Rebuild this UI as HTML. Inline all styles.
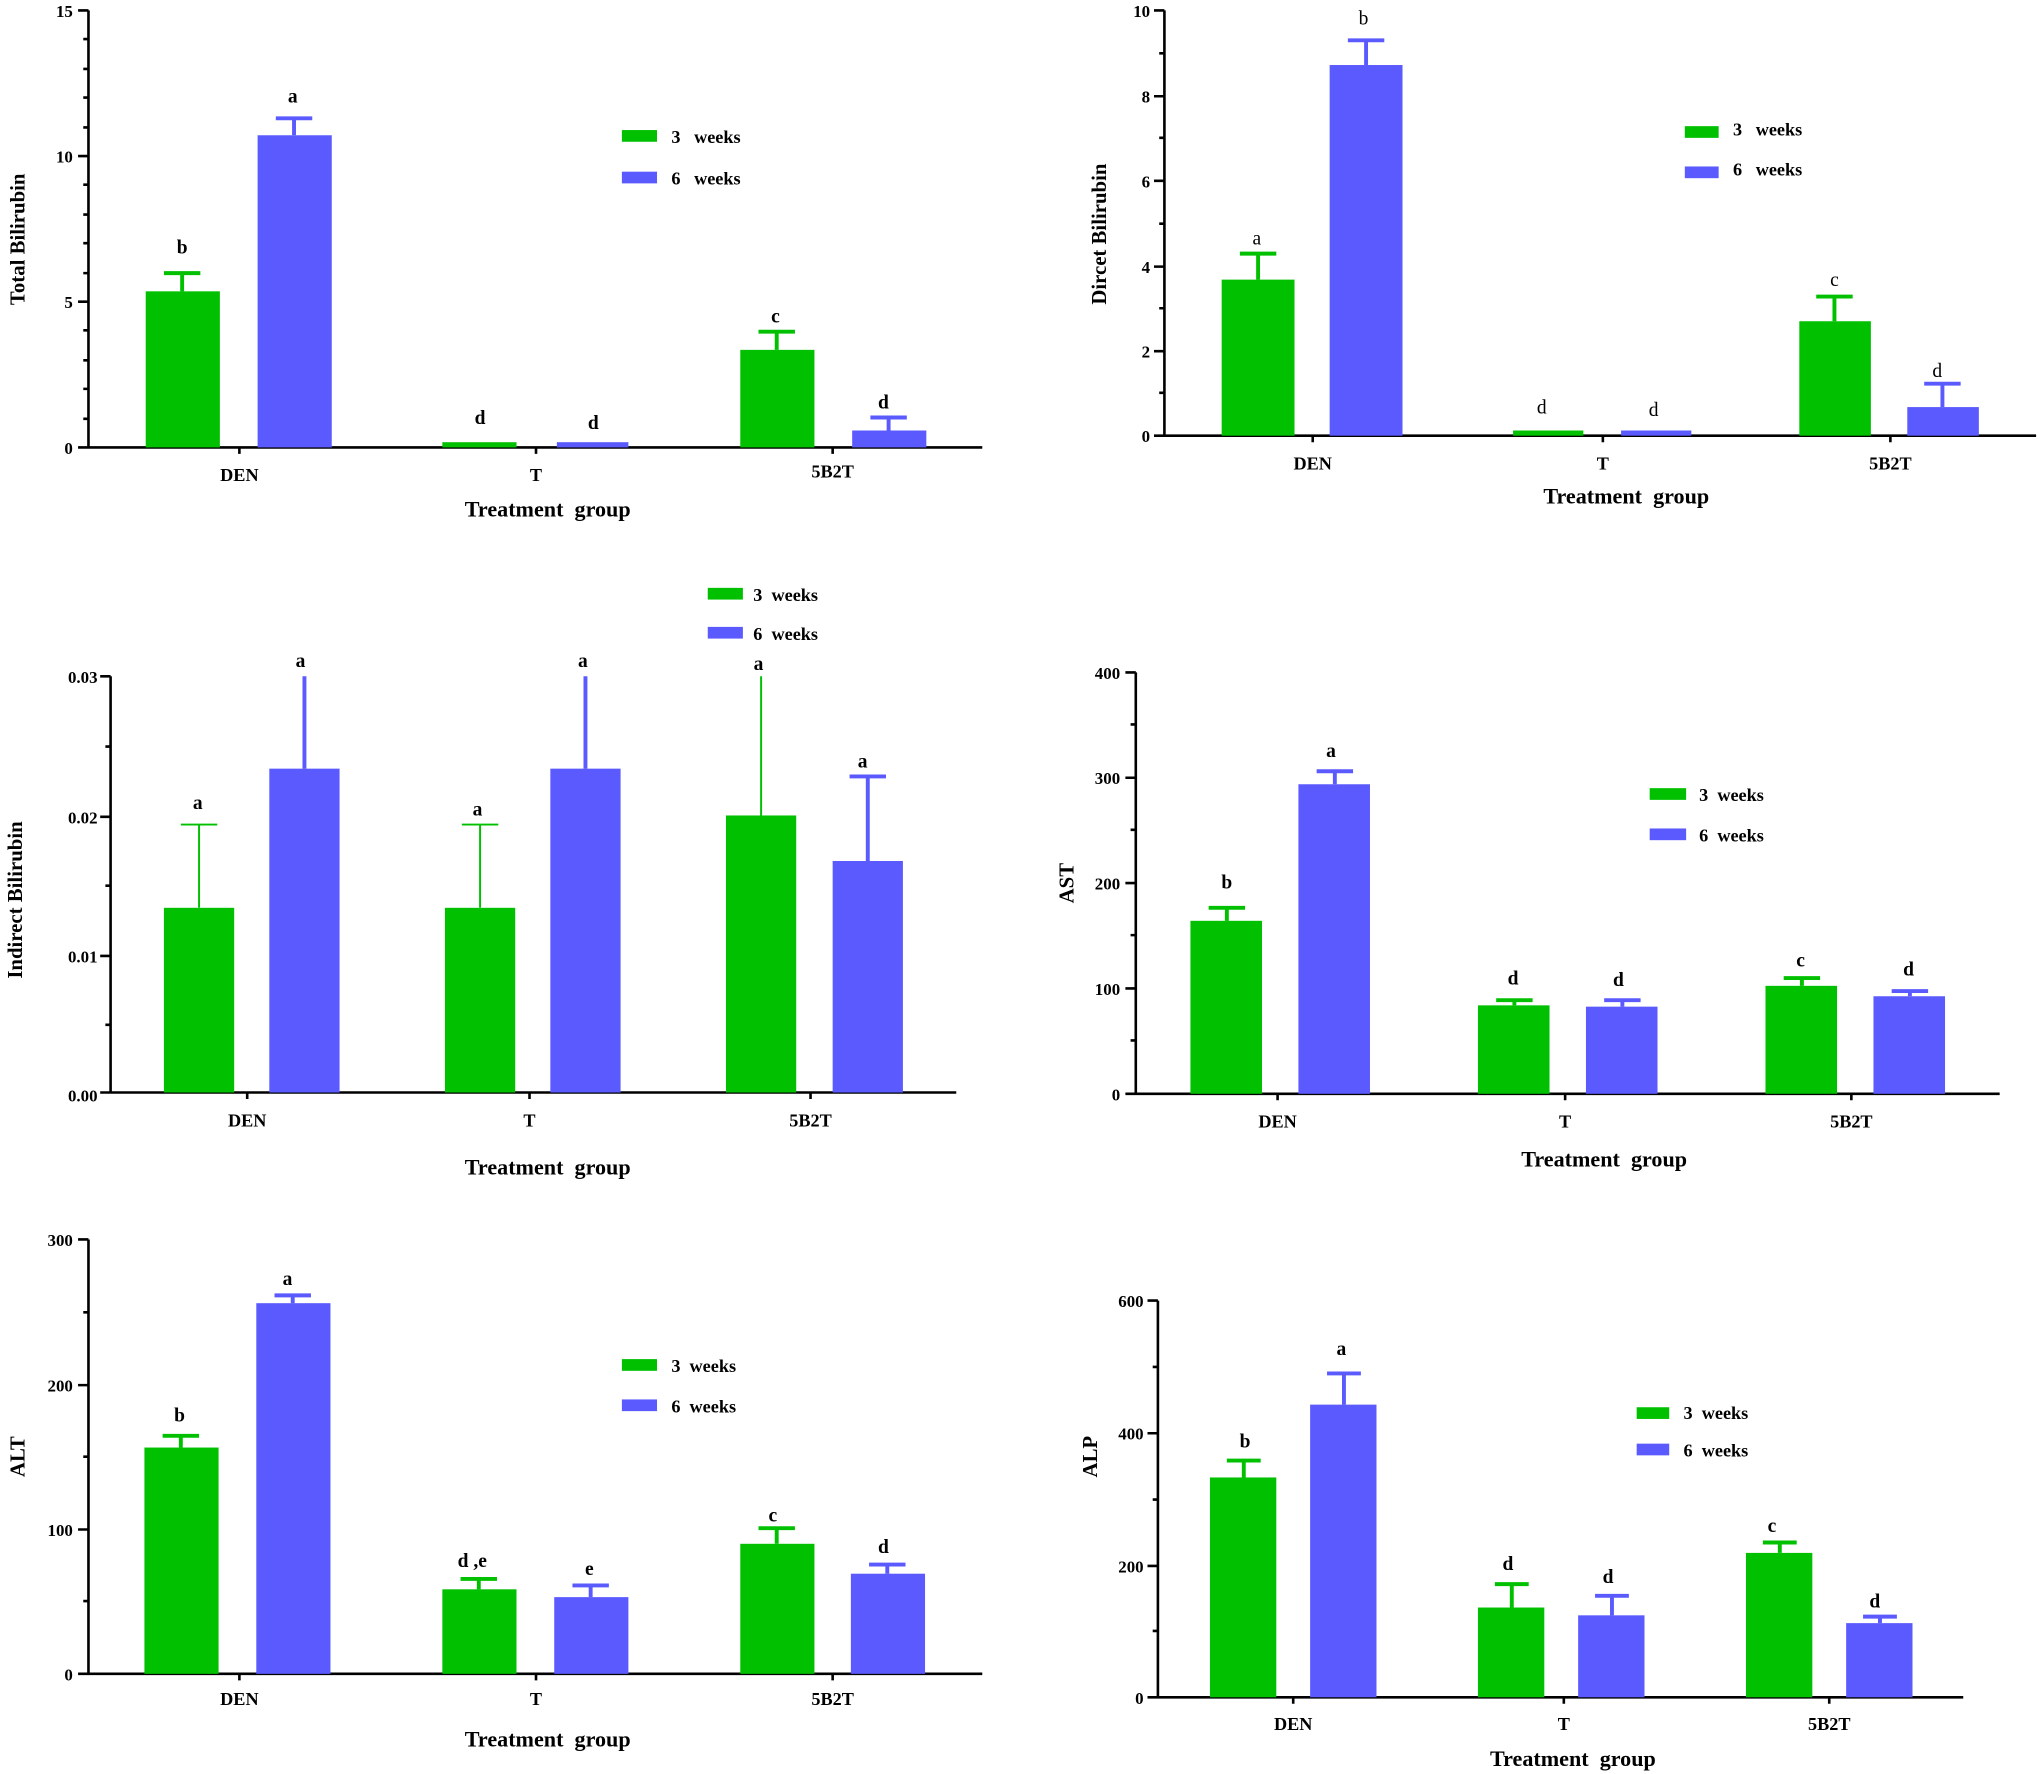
<!DOCTYPE html>
<html><head><meta charset="utf-8"><style>
html,body{margin:0;padding:0;background:#fff}
svg{display:block}
text{font-family:"Liberation Serif",serif;font-weight:bold;fill:#000;white-space:pre}
.ax{stroke:#000;stroke-width:2;fill:none}
.g{fill:#00c000}.b{fill:#5a5aff}
.eg{stroke:#00c000;stroke-width:3}.eb{stroke:#5a5aff;stroke-width:3}
.t{font-size:13px}.l{font-size:15px}.c{font-size:14px}.ti{font-size:17px}.y{font-size:16px}.lg{font-size:14px}
.n{font-weight:normal}
</style></head><body>
<svg width="2040" height="1774" viewBox="0 0 1568 1364" preserveAspectRatio="none" xmlns="http://www.w3.org/2000/svg" xml:space="preserve">

<!-- Panel 1 -->
<path class="ax" d="M68 8V344H755M60 8H68M60 120H68M60 232H68M60 344H68M64 30H68M64 53H68M64 75H68M64 98H68M64 142H68M64 165H68M64 187H68M64 210H68M64 254H68M64 277H68M64 299H68M64 322H68M184 344v5M412 344v5M640 344v5"/>
<g class="t" text-anchor="end"><text x="56" y="13">15</text><text x="56" y="125">10</text><text x="56" y="237">5</text><text x="56" y="349">0</text></g>
<rect class="g" x="112" y="224" width="57" height="120"/><rect class="b" x="198" y="104" width="57" height="240"/>
<rect class="g" x="340" y="340" width="57" height="4"/><rect class="b" x="428" y="340" width="55" height="4"/>
<rect class="g" x="569" y="269" width="57" height="75"/><rect class="b" x="655" y="331" width="57" height="13"/>
<path class="eg" d="M140 224V210M126 210H154M597 269V255M583 255H611"/>
<path class="eb" d="M226 104V91M212 91H240M683 331V321M669 321H697"/>
<g class="l" text-anchor="middle"><text x="140" y="195">b</text><text x="225" y="79">a</text><text x="369" y="326">d</text><text x="456" y="330">d</text><text x="596" y="248">c</text><text x="679" y="314">d</text></g>
<g class="c" text-anchor="middle"><text x="184" y="370">DEN</text><text x="412" y="370">T</text><text x="640" y="367">5B2T</text></g>
<text class="ti" x="421" y="397" text-anchor="middle">Treatment  group</text>
<text class="y" transform="translate(19,184) rotate(-90)" text-anchor="middle">Total Bilirubin</text>
<rect class="g" x="478" y="100" width="27" height="9"/><rect class="b" x="478" y="132" width="27" height="9"/>
<text class="lg" x="516" y="110">3   weeks</text><text class="lg" x="516" y="142">6   weeks</text>

<!-- Panel 2 -->
<path class="ax" d="M895 8V335H1565M887 8H895M887 74H895M887 139H895M887 205H895M887 270H895M887 335H895M891 41H895M891 106H895M891 172H895M891 237H895M891 302H895M1009 335v5M1232 335v5M1453 335v5"/>
<g class="t" text-anchor="end"><text x="884" y="13">10</text><text x="884" y="79">8</text><text x="884" y="144">6</text><text x="884" y="210">4</text><text x="884" y="275">2</text><text x="884" y="340">0</text></g>
<rect class="g" x="939" y="215" width="56" height="120"/><rect class="b" x="1022" y="50" width="56" height="285"/>
<rect class="g" x="1163" y="331" width="54" height="4"/><rect class="b" x="1246" y="331" width="54" height="4"/>
<rect class="g" x="1383" y="247" width="55" height="88"/><rect class="b" x="1466" y="313" width="55" height="22"/>
<path class="eg" d="M967 215V195M953 195H981M1410 247V228M1396 228H1424"/>
<path class="eb" d="M1050 50V31M1036 31H1064M1493 313V295M1479 295H1507"/>
<g class="l n" text-anchor="middle"><text class="n" x="966" y="188">a</text><text class="n" x="1048" y="19">b</text><text class="n" x="1185" y="318">d</text><text class="n" x="1271" y="320">d</text><text class="n" x="1410" y="220">c</text><text class="n" x="1489" y="290">d</text></g>
<g class="c" text-anchor="middle"><text x="1009" y="361">DEN</text><text x="1232" y="361">T</text><text x="1453" y="361">5B2T</text></g>
<text class="ti" x="1250" y="387" text-anchor="middle">Treatment  group</text>
<text class="y" transform="translate(850,180) rotate(-90)" text-anchor="middle">Dircet Bilirubin</text>
<rect class="g" x="1295" y="97" width="26" height="9"/><rect class="b" x="1295" y="128" width="26" height="9"/>
<text class="lg" x="1332" y="104">3   weeks</text><text class="lg" x="1332" y="135">6   weeks</text>

<!-- Panel 3 -->
<path class="ax" d="M85 520V840H735M77 520H85M77 628H85M77 735H85M77 840H85M81 574H85M81 681H85M81 788H85M190 840v5M407 840v5M623 840v5"/>
<g class="t" text-anchor="end"><text x="75" y="525">0.03</text><text x="75" y="633">0.02</text><text x="75" y="740">0.01</text><text x="75" y="847">0.00</text></g>
<rect class="g" x="126" y="698" width="54" height="142"/><rect class="b" x="207" y="591" width="54" height="249"/>
<rect class="g" x="342" y="698" width="54" height="142"/><rect class="b" x="423" y="591" width="54" height="249"/>
<rect class="g" x="558" y="627" width="54" height="213"/><rect class="b" x="640" y="662" width="54" height="178"/>
<path stroke="#00c000" stroke-width="1.5" d="M153 698V634M139 634H167M369 698V634M355 634H383M585 627V520"/>
<path class="eb" d="M234 591V520M450 591V520M667 662V597M653 597H681"/>
<g class="l" text-anchor="middle"><text x="152" y="622">a</text><text x="231" y="513">a</text><text x="367" y="627">a</text><text x="448" y="513">a</text><text x="583" y="515">a</text><text x="663" y="590">a</text></g>
<g class="c" text-anchor="middle"><text x="190" y="866">DEN</text><text x="407" y="866">T</text><text x="623" y="866">5B2T</text></g>
<text class="ti" x="421" y="903" text-anchor="middle">Treatment  group</text>
<text class="y" transform="translate(17,692) rotate(-90)" text-anchor="middle">Indirect Bilirubin</text>
<rect class="g" x="544" y="452" width="27" height="9"/><rect class="b" x="544" y="482" width="27" height="9"/>
<text class="lg" x="579" y="462">3  weeks</text><text class="lg" x="579" y="492">6  weeks</text>

<!-- Panel 4 -->
<path class="ax" d="M873 517V841H1537M865 517H873M865 598H873M865 679H873M865 760H873M865 841H873M869 557H873M869 638H873M869 719H873M869 800H873M982 841v5M1203 841v5M1423 841v5"/>
<g class="t" text-anchor="end"><text x="861" y="522">400</text><text x="861" y="603">300</text><text x="861" y="684">200</text><text x="861" y="765">100</text><text x="861" y="846">0</text></g>
<rect class="g" x="915" y="708" width="55" height="133"/><rect class="b" x="998" y="603" width="55" height="238"/>
<rect class="g" x="1136" y="773" width="55" height="68"/><rect class="b" x="1219" y="774" width="55" height="67"/>
<rect class="g" x="1357" y="758" width="55" height="83"/><rect class="b" x="1440" y="766" width="55" height="75"/>
<path class="eg" d="M943 708V698M929 698H957M1164 773V769M1150 769H1178M1385 758V752M1371 752H1399"/>
<path class="eb" d="M1026 603V593M1012 593H1040M1247 774V769M1233 769H1261M1468 766V762M1454 762H1482"/>
<g class="l" text-anchor="middle"><text x="943" y="683">b</text><text x="1023" y="582">a</text><text x="1163" y="757">d</text><text x="1244" y="758">d</text><text x="1384" y="743">c</text><text x="1467" y="750">d</text></g>
<g class="c" text-anchor="middle"><text x="982" y="867">DEN</text><text x="1203" y="867">T</text><text x="1423" y="867">5B2T</text></g>
<text class="ti" x="1233" y="897" text-anchor="middle">Treatment  group</text>
<text class="y" transform="translate(825,679) rotate(-90)" text-anchor="middle">AST</text>
<rect class="g" x="1268" y="606" width="28" height="9"/><rect class="b" x="1268" y="637" width="28" height="9"/>
<text class="lg" x="1306" y="616">3  weeks</text><text class="lg" x="1306" y="647">6  weeks</text>

<!-- Panel 5 -->
<path class="ax" d="M68 953V1287H755M60 953H68M60 1065H68M60 1176H68M60 1287H68M64 1009H68M64 1120H68M64 1231H68M184 1287v5M412 1287v5M640 1287v5"/>
<g class="t" text-anchor="end"><text x="56" y="958">300</text><text x="56" y="1070">200</text><text x="56" y="1181">100</text><text x="56" y="1292">0</text></g>
<rect class="g" x="111" y="1113" width="57" height="174"/><rect class="b" x="197" y="1002" width="57" height="285"/>
<rect class="g" x="340" y="1222" width="57" height="65"/><rect class="b" x="426" y="1228" width="57" height="59"/>
<rect class="g" x="569" y="1187" width="57" height="100"/><rect class="b" x="654" y="1210" width="57" height="77"/>
<path class="eg" d="M139 1113V1104M125 1104H153M368 1222V1214M354 1214H382M597 1187V1175M583 1175H611"/>
<path class="eb" d="M225 1002V996M211 996H239M454 1228V1219M440 1219H468M682 1210V1203M668 1203H696"/>
<g class="l" text-anchor="middle"><text x="138" y="1093">b</text><text x="221" y="988">a</text><text x="363" y="1205">d ,e</text><text x="453" y="1211">e</text><text x="594" y="1170">c</text><text x="679" y="1194">d</text></g>
<g class="c" text-anchor="middle"><text x="184" y="1311">DEN</text><text x="412" y="1311">T</text><text x="640" y="1311">5B2T</text></g>
<text class="ti" x="421" y="1343" text-anchor="middle">Treatment  group</text>
<text class="y" transform="translate(19,1120) rotate(-90)" text-anchor="middle">ALT</text>
<rect class="g" x="478" y="1045" width="27" height="9"/><rect class="b" x="478" y="1076" width="27" height="9"/>
<text class="lg" x="516" y="1055">3  weeks</text><text class="lg" x="516" y="1086">6  weeks</text>

<!-- Panel 6 -->
<path class="ax" d="M890 1000V1305H1509M882 1000H890M882 1102H890M882 1204H890M882 1305H890M886 1051H890M886 1153H890M886 1254H890M994 1305v5M1202 1305v5M1406 1305v5"/>
<g class="t" text-anchor="end"><text x="879" y="1005">600</text><text x="879" y="1107">400</text><text x="879" y="1209">200</text><text x="879" y="1310">0</text></g>
<rect class="g" x="930" y="1136" width="51" height="169"/><rect class="b" x="1007" y="1080" width="51" height="225"/>
<rect class="g" x="1136" y="1236" width="51" height="69"/><rect class="b" x="1213" y="1242" width="51" height="63"/>
<rect class="g" x="1342" y="1194" width="51" height="111"/><rect class="b" x="1419" y="1248" width="51" height="57"/>
<path class="eg" d="M956 1136V1123M943 1123H969M1162 1236V1218M1149 1218H1175M1368 1194V1186M1355 1186H1381"/>
<path class="eb" d="M1033 1080V1056M1020 1056H1046M1239 1242V1227M1226 1227H1252M1445 1248V1243M1432 1243H1458"/>
<g class="l" text-anchor="middle"><text x="957" y="1113">b</text><text x="1031" y="1042">a</text><text x="1159" y="1207">d</text><text x="1236" y="1217">d</text><text x="1362" y="1178">c</text><text x="1441" y="1236">d</text></g>
<g class="c" text-anchor="middle"><text x="994" y="1330">DEN</text><text x="1202" y="1330">T</text><text x="1406" y="1330">5B2T</text></g>
<text class="ti" x="1209" y="1358" text-anchor="middle">Treatment  group</text>
<text class="y" transform="translate(843,1120) rotate(-90)" text-anchor="middle">ALP</text>
<rect class="g" x="1258" y="1082" width="25" height="9"/><rect class="b" x="1258" y="1110" width="25" height="9"/>
<text class="lg" x="1294" y="1091">3  weeks</text><text class="lg" x="1294" y="1120">6  weeks</text>
</svg>
</body></html>
